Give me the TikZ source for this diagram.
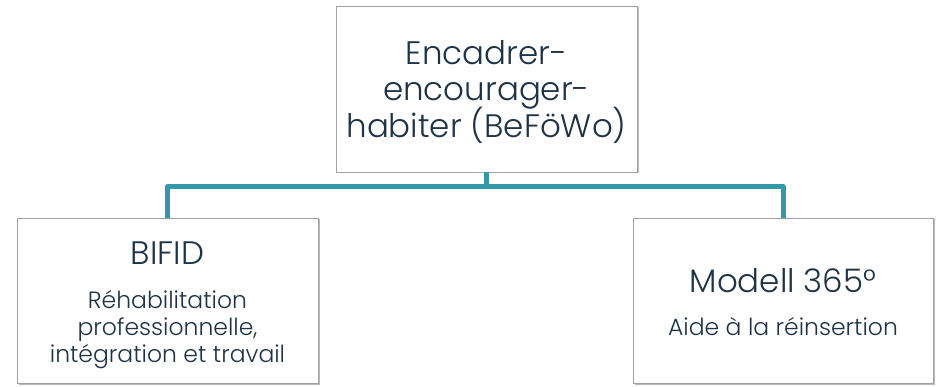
\documentclass[tikz,border=0pt]{standalone}
\usepackage{fontspec}
\setmainfont{Poppins}[UprightFont=* Light]
\usetikzlibrary{shadows}
\definecolor{txt}{HTML}{1F3347}
\definecolor{teal}{HTML}{3399A8}
\definecolor{bord}{HTML}{A0A0A0}
\tikzset{
  box/.style={draw=bord, line width=0.8pt, fill=white, drop shadow={shadow xshift=1.5pt, shadow yshift=-1.5pt, opacity=0.45, fill=black!60}},
  conn/.style={draw=teal, line width=5pt},
  big/.style={text=txt, font=\fontsize{32.5}{36}\selectfont, anchor=base},
  small/.style={text=txt, font=\fontsize{23.5}{26}\selectfont, anchor=base, align=center},
}
\begin{document}
\begin{tikzpicture}[x=1pt,y=-1pt]
\useasboundingbox (0,0) rectangle (936,387);
% boxes
\path[box] (336,6) rectangle (637,172);
\path[box] (17,218) rectangle (318,383);
\path[box] (633,218) rectangle (933,383);
\coordinate (topc) at (486.5,172);
\coordinate (mid) at (486.5,187);
\coordinate (lc) at (167.5,218);
\coordinate (rc) at (783,218);
\draw[conn] (topc) -- (mid);
\draw[conn, line join=round] (lc) |- (mid) -| (rc);
% texts
\node[big] (t1) at (486.5,65) {Encadrer-};
\node[big] (t2) at (486.5,101) {encourager-};
\node[big] (t3) at (486.5,138) {habiter (BeFöWo)};
\node[big] (b1) at (167.5,265) {BIFID};
\node[small] (b2) at (167.5,308) {Réhabilitation};
\node[small] (b3) at (167.5,335) {professionnelle,};
\node[small] (b4) at (167.5,362) {intégration et travail};
\node[big] (m1) at (783,292) {Modell 365°};
\node[small] (m2) at (783,335) {Aide à la réinsertion};
\end{tikzpicture}
\end{document}
